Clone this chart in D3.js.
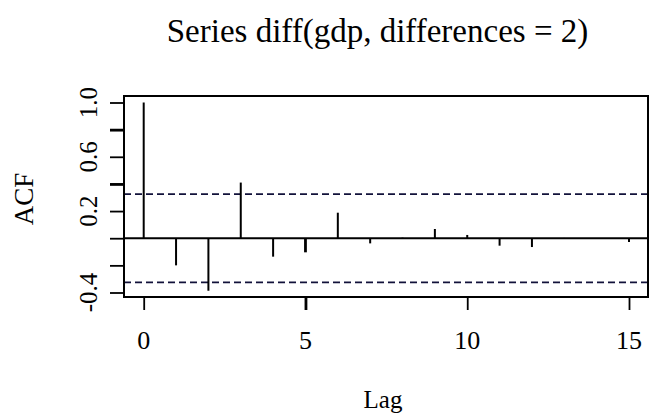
<!DOCTYPE html>
<html>
<head>
<meta charset="utf-8">
<script src="https://cdn.jsdelivr.net/npm/d3@7"></script>
<style>
  body { margin: 0; background: #fff; }
  svg { display: block; font-family: "Liberation Serif", "Times New Roman", serif; }
</style>
</head>
<body>
<svg id="chart" width="649" height="415"></svg>
<script>
// ACF of diff(gdp, differences = 2)
const lags = [0, 1, 2, 3, 4, 5, 6, 7, 8, 9, 10, 11, 12, 13, 14, 15];
const acfValues = [1.0, -0.20, -0.387, 0.41, -0.136, -0.104, 0.188, -0.038, 0.004, 0.068, 0.024, -0.055, -0.065, 0.002, -0.002, -0.028];
const confBound = 0.325;

const yTicks = [-0.4, -0.2, 0.0, 0.2, 0.4, 0.6, 0.8, 1.0];
const yTickLabels = ["-0.4", "0.2", "0.6", "1.0"];
const xTicks = [0, 5, 10, 15];

const svg = d3.select("#chart");

// plot box
const box = { left: 124, right: 648, top: 96, bottom: 297 };

const x = d3.scaleLinear()
    .domain([0, 15])
    .range([143.7, 629]);

const y = d3.scaleLinear()
    .domain([-0.4, 1.0])
    .range([292.5, 102.5]);

// title
svg.append("text")
    .attr("x", 377.5)
    .attr("y", 42)
    .attr("text-anchor", "middle")
    .attr("font-size", "33px")
    .text("Series diff(gdp, differences = 2)");

// confidence bounds
svg.append("g")
    .selectAll("line")
    .data([confBound, -confBound])
    .join("line")
    .attr("x1", box.left)
    .attr("x2", box.right)
    .attr("y1", d => y(d))
    .attr("y2", d => y(d))
    .attr("stroke", "#12123a")
    .attr("stroke-width", 1.8)
    .attr("stroke-dasharray", "7,4");

// zero line
svg.append("line")
    .attr("x1", box.left)
    .attr("x2", box.right)
    .attr("y1", y(0))
    .attr("y2", y(0))
    .attr("stroke", "#000")
    .attr("stroke-width", 2);

// acf spikes
svg.append("g")
    .selectAll("line")
    .data(lags.map((l, i) => ({ lag: l, value: acfValues[i] })))
    .join("line")
    .attr("x1", d => x(d.lag))
    .attr("x2", d => x(d.lag))
    .attr("y1", y(0))
    .attr("y2", d => y(d.value))
    .attr("stroke", "#000")
    .attr("stroke-width", d => d.lag === 5 ? 2.8 : 2);

// box
svg.append("rect")
    .attr("x", box.left)
    .attr("y", box.top)
    .attr("width", box.right - box.left)
    .attr("height", box.bottom - box.top)
    .attr("fill", "none")
    .attr("stroke", "#000")
    .attr("stroke-width", 2);

// y axis ticks
const yAxis = svg.append("g")
    .attr("transform", `translate(${box.left},0)`)
    .call(d3.axisLeft(y).tickValues(yTicks).tickSize(14).tickFormat(""));
yAxis.select(".domain").remove();
yAxis.selectAll(".tick line")
    .attr("stroke-width", d => (Math.abs(d - 0.8) < 1e-9 || Math.abs(d - 0.4) < 1e-9) ? 2.8 : 1.8);

// y tick labels (rotated)
svg.append("g")
    .selectAll("text")
    .data(yTickLabels)
    .join("text")
    .attr("transform", d => `translate(97,${y(+d)}) rotate(-90)`)
    .attr("text-anchor", "middle")
    .attr("font-size", "25px")
    .text(d => d);

// x axis ticks
const xAxis = svg.append("g")
    .attr("transform", `translate(0,${box.bottom})`)
    .call(d3.axisBottom(x).tickValues(xTicks).tickSize(13).tickFormat(""));
xAxis.select(".domain").remove();
xAxis.selectAll(".tick line")
    .attr("stroke-width", d => d === 5 ? 2.8 : 1.8);

svg.append("g")
    .selectAll("text")
    .data(xTicks)
    .join("text")
    .attr("x", d => x(d))
    .attr("y", 349)
    .attr("text-anchor", "middle")
    .attr("font-size", "26px")
    .text(d => d);

// axis titles
svg.append("text")
    .attr("x", 383)
    .attr("y", 408)
    .attr("text-anchor", "middle")
    .attr("font-size", "25px")
    .text("Lag");

svg.append("text")
    .attr("transform", "translate(33,199) rotate(-90)")
    .attr("text-anchor", "middle")
    .attr("font-size", "27px")
    .text("ACF");
</script>
</body>
</html>
